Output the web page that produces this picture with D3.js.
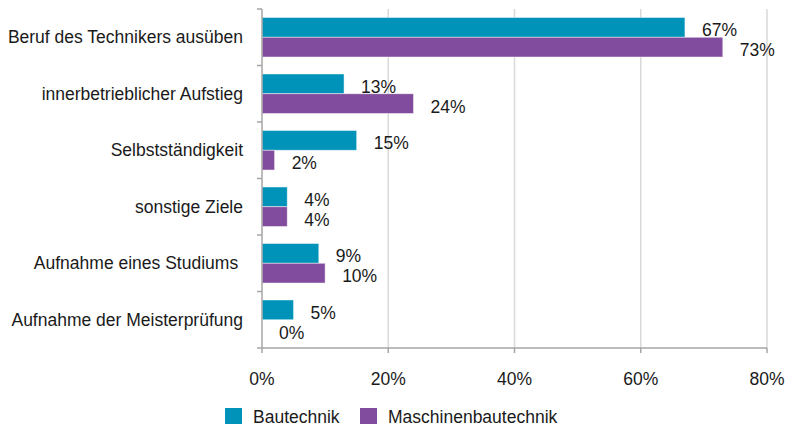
<!DOCTYPE html>
<html>
<head>
<meta charset="utf-8">
<script src="https://cdn.jsdelivr.net/npm/d3@7"></script>
<style>
  body { margin: 0; background: #fff; }
  svg { display: block; font-family: "Liberation Sans", Arial, sans-serif; }
</style>
</head>
<body>
<svg width="786" height="430"></svg>
<script>
var categories = ["Beruf des Technikers ausüben", "innerbetrieblicher Aufstieg", "Selbstständigkeit",
                  "sonstige Ziele", "Aufnahme eines Studiums ", "Aufnahme der Meisterprüfung"];
var series = ["Bautechnik", "Maschinenbautechnik"];
var bautechnik = [67, 13, 15, 4, 9, 5];
var maschinenbau = [73, 24, 2, 4, 10, 0];
var xTicks = [0, 20, 40, 60, 80];

var colors = ["#0093b9", "#814c9d"];
var values = [bautechnik, maschinenbau];
var fontSize = 17.5;

const svg = d3.select("svg");
const plotLeft = 262, plotRight = 767, plotTop = 9, plotBottom = 348;

var x = d3.scaleLinear().domain([0, 80]).range([plotLeft, plotRight]);
var y = d3.scaleBand().domain(categories).range([plotTop, plotBottom])
          .paddingInner(0.3).paddingOuter(0.15);
var ys = d3.scaleBand().domain(series).range([0, y.bandwidth()]);

// vertical grid
svg.append("g")
  .selectAll("line")
  .data(xTicks.slice(1))
  .join("line")
    .attr("x1", d => x(d)).attr("x2", d => x(d))
    .attr("y1", plotTop).attr("y2", plotBottom)
    .attr("stroke", "#d9d9d9")
    .attr("stroke-width", 1.5);

// bars
var rows = [];
categories.forEach((c, i) => {
  series.forEach((s, j) => rows.push({cat: c, ser: s, v: values[j][i], j: j}));
});

svg.append("g")
  .selectAll("rect")
  .data(rows)
  .join("rect")
    .attr("x", x(0))
    .attr("y", d => y(d.cat) + ys(d.ser))
    .attr("width", d => x(d.v) - x(0))
    .attr("height", ys.bandwidth())
    .attr("fill", d => colors[d.j])
    .attr("stroke", "#ffffff")
    .attr("stroke-opacity", 0.6)
    .attr("stroke-width", 0.8);

// value labels
svg.append("g")
  .selectAll("text")
  .data(rows)
  .join("text")
    .attr("x", d => x(d.v) + 17)
    .attr("y", d => y(d.cat) + ys(d.ser) + ys.bandwidth() / 2 + 3)
    .attr("dy", "0.35em")
    .attr("font-size", fontSize)
    .attr("fill", "#1a1a1a")
    .text(d => d.v + "%");

// y axis: line, boundary ticks, labels
var yAxis = svg.append("g");
yAxis.append("line")
  .attr("x1", plotLeft).attr("x2", plotLeft)
  .attr("y1", plotTop).attr("y2", plotBottom)
  .attr("stroke", "#a6a6a6").attr("stroke-width", 1.5);
yAxis.selectAll(".bt")
  .data(d3.range(categories.length + 1))
  .join("line")
    .attr("class", "bt")
    .attr("x1", plotLeft - 5).attr("x2", plotLeft)
    .attr("y1", i => plotTop + i * y.step()).attr("y2", i => plotTop + i * y.step())
    .attr("stroke", "#a6a6a6").attr("stroke-width", 1.5);
yAxis.selectAll("text")
  .data(categories)
  .join("text")
    .attr("x", 243)
    .attr("y", d => y(d) + y.bandwidth() / 2)
    .attr("dy", "0.35em")
    .attr("text-anchor", "end")
    .attr("font-size", fontSize)
    .attr("fill", "#1a1a1a")
    .attr("xml:space", "preserve")
    .text(d => d);

// x axis
var xAxis = svg.append("g");
xAxis.append("line")
  .attr("x1", plotLeft).attr("x2", plotRight)
  .attr("y1", plotBottom).attr("y2", plotBottom)
  .attr("stroke", "#a6a6a6").attr("stroke-width", 1.5);
xAxis.selectAll(".xt")
  .data(xTicks)
  .join("line")
    .attr("class", "xt")
    .attr("x1", d => x(d)).attr("x2", d => x(d))
    .attr("y1", plotBottom).attr("y2", plotBottom + 5)
    .attr("stroke", "#a6a6a6").attr("stroke-width", 1.5);
xAxis.selectAll("text")
  .data(xTicks)
  .join("text")
    .attr("x", d => x(d))
    .attr("y", 385)
    .attr("text-anchor", "middle")
    .attr("font-size", fontSize)
    .attr("fill", "#1a1a1a")
    .text(d => d + "%");

// legend
var legendX = [225, 360];
var legend = svg.append("g")
  .selectAll("g")
  .data(series)
  .join("g")
    .attr("transform", (d, i) => `translate(${legendX[i]},408)`);
legend.append("rect")
  .attr("width", 17).attr("height", 16)
  .attr("fill", (d, i) => colors[i]);
legend.append("text")
  .attr("x", 28).attr("y", 15)
  .attr("font-size", fontSize)
  .attr("fill", "#1a1a1a")
  .text(d => d);
</script>
</body>
</html>
